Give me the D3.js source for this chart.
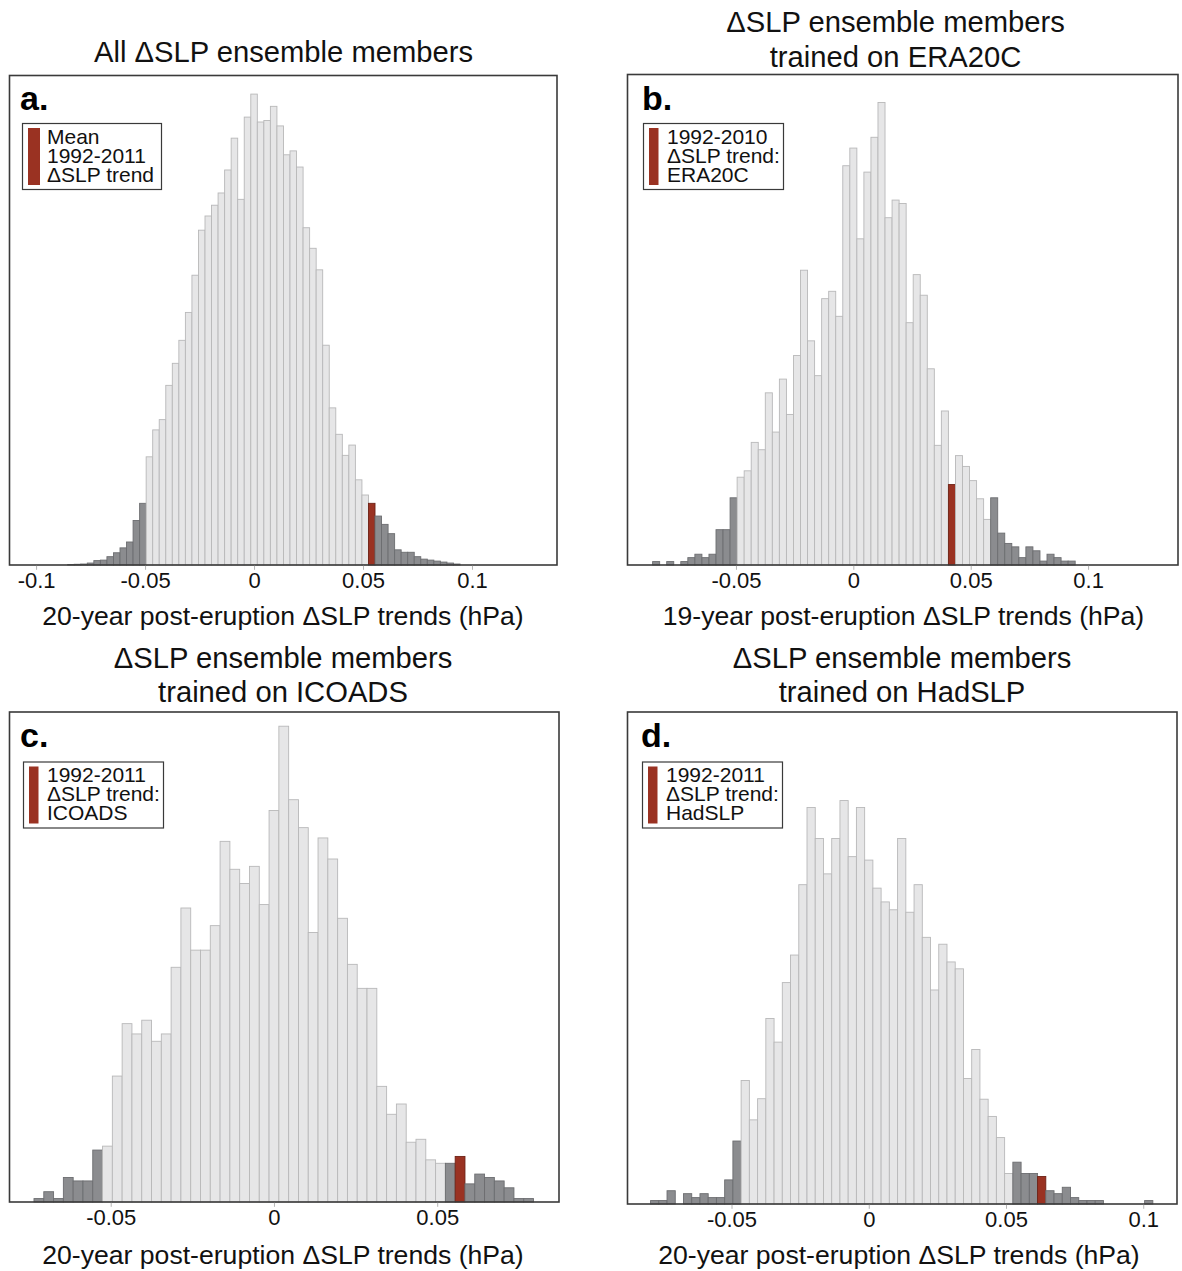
<!DOCTYPE html>
<html>
<head>
<meta charset="utf-8">
<script src="https://cdn.jsdelivr.net/npm/d3@7"></script>
<style>
  html, body { margin: 0; padding: 0; background: #fff; }
  svg { display: block; font-family: "Liberation Sans", Arial, Helvetica, sans-serif; }
</style>
</head>
<body>
<svg id="fig" width="1182" height="1271"></svg>
<script>
// Histogram bin width (hPa), bins are centred on multiples of it
const binWidth = 0.003;

// ---- a. all ensemble members ----
const firstBinA = -0.084;
const freqA = [0.1, 0.15, 0.2, 0.4, 0.9, 1.0, 1.7, 2.5, 3.5, 4.7, 9.1, 12.6,
  22.1, 27.6, 29.7, 36.7, 41.2, 45.9, 51.6, 59.2, 68.4, 71.3, 73.5, 76.0, 80.7, 87.2, 74.7, 91.5,
  96.2, 90.5, 90.8, 93.7, 89.7, 83.8, 84.6, 81.3, 68.9, 64.7, 60.3, 44.9, 32.1, 26.7, 22.4, 24.5,
  17.4, 14.3, 12.6, 10.0, 8.3, 6.4, 3.1, 2.6, 2.6, 1.7, 1.2, 1.0, 0.8, 0.6, 0.4, 0.2];
const tailsA = [-0.0495, 0.0525];
const trendA = 0.054;
const ticksA = [-0.1, -0.05, 0, 0.05, 0.1];
const titleA = ["All ΔSLP ensemble members"];
const legendA = ["Mean", "1992-2011", "ΔSLP trend"];
const xLabelA = "20-year post-eruption ΔSLP trends (hPa)";

// ---- b. members trained on ERA20C ----
const firstBinB = -0.084;
const freqB = [0.7, 0, 0.7, 0, 0.7, 1.5, 2.2, 1.5, 2.2, 7.2, 7.2, 13.7,
  17.9, 19.2, 25.0, 23.5, 35.1, 27.1, 37.9, 30.7, 42.7, 60.1, 45.7, 38.6, 54.3, 55.8, 50.7, 81.4,
  85.0, 66.5, 80.1, 87.2, 94.3, 70.8, 74.4, 73.7, 49.4, 59.2, 55.0, 40.0, 24.4, 31.4, 16.4, 22.3,
  20.1, 17.2, 13.5, 9.3, 13.7, 6.5, 4.4, 3.7, 1.5, 3.7, 2.9, 0.8, 2.2, 1.5, 0.8, 0.8];
const tailsB = [-0.0495, 0.0585];
const trendB = 0.042;
const ticksB = [-0.05, 0, 0.05, 0.1];
const titleB = ["ΔSLP ensemble members", "trained on ERA20C"];
const legendB = ["1992-2010", "ΔSLP trend:", "ERA20C"];
const xLabelB = "19-year post-eruption ΔSLP trends (hPa)";

// ---- c. members trained on ICOADS ----
const firstBinC = -0.072;
const freqC = [0.7, 2.1, 0.7, 5.0, 4.3, 4.3, 10.6,
  11.4, 25.7, 36.4, 34.3, 37.1, 32.8, 34.3, 47.9, 60.0, 51.4, 51.4, 56.4, 73.6, 67.9, 65.0, 68.5, 60.7,
  79.9, 97.1, 82.1, 76.4, 55.0, 74.3, 70.0, 57.9, 48.5, 43.6, 43.6, 23.6, 17.9, 20.0, 12.2, 12.8,
  8.6, 7.9, 7.9, 9.3, 3.7, 5.7, 5.0, 4.3, 2.9, 0.7, 0.7];
const tailsC = [-0.0525, 0.0525];
const trendC = 0.057;
const ticksC = [-0.05, 0, 0.05];
const titleC = ["ΔSLP ensemble members", "trained on ICOADS"];
const legendC = ["1992-2011", "ΔSLP trend:", "ICOADS"];
const xLabelC = "20-year post-eruption ΔSLP trends (hPa)";

// ---- d. members trained on HadSLP ----
const firstBinD = -0.078;
const freqD = [0.7, 0.7, 2.7, 0, 2.1, 1.3, 2.1, 1.3, 1.3, 4.9, 12.8,
  25.1, 17.1, 21.4, 37.7, 32.9, 45.0, 50.6, 64.9, 80.6, 74.3, 67.1, 74.3, 82.0, 70.6, 80.6,
  69.9, 64.2, 61.4, 59.8, 74.3, 59.3, 64.9, 54.2, 43.5, 52.8, 49.2, 47.8, 25.5, 31.4, 21.3, 17.8,
  13.5, 6.2, 8.5, 6.2, 6.2, 5.6, 2.7, 2.1, 3.4, 1.3, 0.7, 0.7, 0.7, 0, 0, 0, 0, 0, 0.7];
const tailsD = [-0.0465, 0.0525];
const trendD = 0.063;
const ticksD = [-0.05, 0, 0.05, 0.1];
const titleD = ["ΔSLP ensemble members", "trained on HadSLP"];
const legendD = ["1992-2011", "ΔSLP trend:", "HadSLP"];
const xLabelD = "20-year post-eruption ΔSLP trends (hPa)";

// Panel layout: frame, x-domain, title placement, legend placement
const panels = [
  { tag: "a.", first: firstBinA, freq: freqA, tails: tailsA, trend: trendA, ticks: ticksA,
    title: titleA, legend: legendA, xLabel: xLabelA,
    frame: { x0: 9.5, x1: 557, y0: 75.5, y1: 565 }, domain: [-0.1122, 0.139],
    titleX: 283.5, titleY: [62], xLabelX: 283, xLabelY: 625,
    tagX: 20, tagY: 110, leg: { x: 22.5, y: 123.5, w: 139, h: 66, sw: 12, tx: 47, ty: 143.5 } },
  { tag: "b.", first: firstBinB, freq: freqB, tails: tailsB, trend: trendB, ticks: ticksB,
    title: titleB, legend: legendB, xLabel: xLabelB,
    frame: { x0: 627.5, x1: 1178, y0: 74.5, y1: 565 }, domain: [-0.0962, 0.1383],
    titleX: 895.5, titleY: [32, 67], xLabelX: 903.5, xLabelY: 625,
    tagX: 642, tagY: 110, leg: { x: 643.5, y: 123.5, w: 140, h: 66, sw: 9.5, tx: 667, ty: 143.5 } },
  { tag: "c.", first: firstBinC, freq: freqC, tails: tailsC, trend: trendC, ticks: ticksC,
    title: titleC, legend: legendC, xLabel: xLabelC,
    frame: { x0: 9.5, x1: 559, y0: 712, y1: 1202 }, domain: [-0.081, 0.0873],
    titleX: 283, titleY: [668, 702], xLabelX: 283, xLabelY: 1264,
    tagX: 20, tagY: 747, leg: { x: 23.5, y: 762, w: 140, h: 66, sw: 9.5, tx: 47, ty: 781.5 } },
  { tag: "d.", first: firstBinD, freq: freqD, tails: tailsD, trend: trendD, ticks: ticksD,
    title: titleD, legend: legendD, xLabel: xLabelD,
    frame: { x0: 627.5, x1: 1177, y0: 712, y1: 1204 }, domain: [-0.0879, 0.1123],
    titleX: 902, titleY: [668, 702], xLabelX: 899, xLabelY: 1264,
    tagX: 641, tagY: 747, leg: { x: 642.5, y: 762, w: 140, h: 66, sw: 9.5, tx: 666, ty: 781.5 } }
];

const colors = {
  light: "#e6e6e7", lightStroke: "#b8b8b9",
  tail: "#8b8c8f", tailStroke: "#6c6d70",
  obs: "#9a3222", obsStroke: "#6e2216",
  frame: "#3a3a3a", text: "#111"
};

const svg = d3.select("#fig");

panels.forEach(p => {
  const g = svg.append("g");
  const f = p.frame;
  const x = d3.scaleLinear().domain(p.domain).range([f.x0, f.x1]);
  const y = d3.scaleLinear().domain([0, 100]).range([f.y1, f.y0]);

  const bins = p.freq.map((v, i) => {
    const c = Math.round((p.first + i * binWidth) * 10000) / 10000;
    let kind = "light";
    if (c < p.tails[0] || c > p.tails[1]) kind = "tail";
    if (Math.abs(c - p.trend) < binWidth / 2) kind = "obs";
    return { c, v, kind };
  }).filter(d => d.v > 0);

  g.selectAll("rect.bar").data(bins).enter().append("rect")
    .attr("class", "bar")
    .attr("x", d => x(d.c - binWidth / 2))
    .attr("width", d => x(d.c + binWidth / 2) - x(d.c - binWidth / 2))
    .attr("y", d => y(d.v))
    .attr("height", d => y(0) - y(d.v))
    .attr("fill", d => colors[d.kind])
    .attr("stroke", d => colors[d.kind + "Stroke"])
    .attr("stroke-width", 0.9);

  // frame around the plot area
  g.append("rect")
    .attr("x", f.x0).attr("y", f.y0)
    .attr("width", f.x1 - f.x0).attr("height", f.y1 - f.y0)
    .attr("fill", "none").attr("stroke", colors.frame).attr("stroke-width", 1.6);

  // x axis ticks and labels
  const axis = d3.axisBottom(x).tickValues(p.ticks)
    .tickSize(4).tickPadding(3).tickFormat(d => String(d));
  const ax = g.append("g").attr("transform", `translate(0,${f.y1 + 0.8})`).call(axis);
  ax.select(".domain").remove();
  ax.selectAll(".tick line").attr("stroke", "#b5b5b5");
  ax.selectAll(".tick text").attr("fill", colors.text)
    .style("font-size", "22px").style("font-family", '"Liberation Sans", Arial, sans-serif');

  // x axis title
  g.append("text").attr("x", p.xLabelX).attr("y", p.xLabelY)
    .attr("text-anchor", "middle").attr("fill", colors.text)
    .style("font-size", "26.6px").text(p.xLabel);

  // panel title
  p.title.forEach((t, i) => {
    g.append("text").attr("x", p.titleX).attr("y", p.titleY[i])
      .attr("text-anchor", "middle").attr("fill", colors.text)
      .style("font-size", "29.2px").text(t);
  });

  // panel letter
  g.append("text").attr("x", p.tagX).attr("y", p.tagY)
    .attr("fill", "#000").style("font-size", "34px").style("font-weight", "bold")
    .text(p.tag);

  // legend: swatch of the observed-trend colour with a three-line label
  const L = p.leg;
  g.append("rect").attr("x", L.x).attr("y", L.y).attr("width", L.w).attr("height", L.h)
    .attr("fill", "#fff").attr("stroke", colors.frame).attr("stroke-width", 1.2);
  g.append("rect").attr("x", L.x + 5.5).attr("y", L.y + 4.5)
    .attr("width", L.sw).attr("height", L.h - 9)
    .attr("fill", colors.obs);
  const lt = g.append("text").attr("x", L.tx).attr("y", L.ty)
    .attr("fill", colors.text).style("font-size", "21px");
  p.legend.forEach((t, i) => {
    lt.append("tspan").attr("x", L.tx).attr("dy", i === 0 ? 0 : 19).text(t);
  });
});
</script>
</body>
</html>
